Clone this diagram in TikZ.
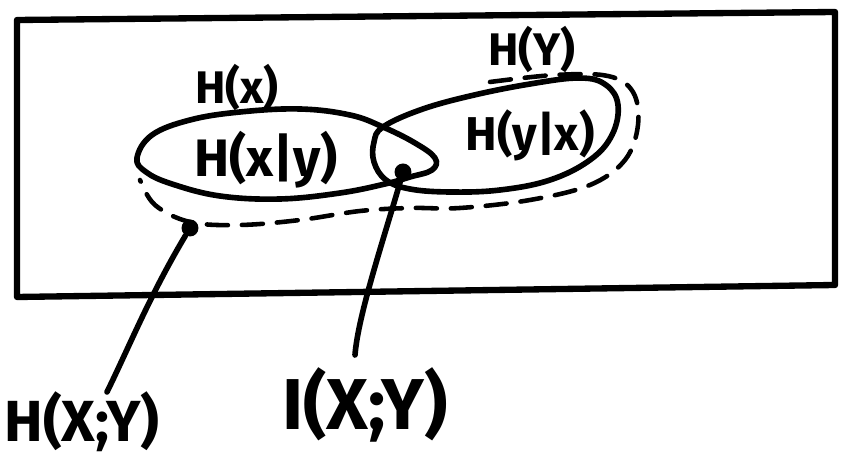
\documentclass[tikz,border=0pt]{standalone}
\usepackage{fontspec}
\setmainfont{Fira Sans}
\begin{document}
\begin{tikzpicture}[x=0.02cm,y=-0.02cm,
  ink/.style={line width=3.2pt,line cap=round,line join=round},
  dashink/.style={line width=2.6pt,line cap=round,dash pattern=on 0.42cm off 0.28cm},
  lab/.style={inner sep=0pt,font=\fontsize{#1}{#1}\selectfont\bfseries},
  dotnode/.style={circle,fill,inner sep=0pt,minimum size=0.34cm}]
\useasboundingbox (0,0) rectangle (850,465);
% frame
\coordinate (A) at (17,20);
\coordinate (B) at (835,12);
\coordinate (C) at (835,285);
\coordinate (D) at (17,297);
\draw[ink,line width=3.6pt] (A) -- (B) -- (C) -- (D) -- cycle;
% H(X) region
\draw[ink] plot[smooth cycle,tension=0.65] coordinates {(137,158) (152,135) (190,120) (240,112) (300,109) (350,115) (383,127) (415,143) (435,158) (432,170) (410,177) (385,184) (340,193) (280,199) (220,196) (172,184) (146,172)};
% H(Y) region
\draw[ink] plot[smooth cycle,tension=0.65] coordinates {(383,127) (420,110) (470,96) (530,84) (580,78) (606,85) (618,105) (612,135) (590,160) (550,180) (500,190) (450,192) (410,189) (386,180) (374,162) (374,142)};
% H(X,Y) dashed boundary
\draw[dashink] plot[smooth,tension=0.6] coordinates {(490,82) (555,75) (608,76) (633,92) (638,125) (625,160) (590,185) (530,200) (460,208) (410,208) (360,211) (300,220) (240,225) (190,222) (155,205) (140,180)};
% labels
\node[lab=26] (hx) at (237,88) {H(x)};
\node[lab=26] (hy) at (532,50) {H(Y)};
\node[lab=30] (hxgy) at (266,160) {H(x|y)};
\node[lab=27] (hygx) at (530,135) {H(y|x)};
\node[lab=33] (hxy) at (82,422) {H(X;Y)};
\node[lab=41] (ixy) at (365,405) {I(X;Y)};
% dots and pointers
\node[dotnode] (dot1) at (190,228) {};
\node[dotnode] (dot2) at (403,172) {};
\coordinate (e1) at (107,392);
\coordinate (e2) at (355,355);
\draw[ink] (dot1) .. controls (150,295) and (130,345) .. (e1);
\draw[ink] (dot2) .. controls (385,235) and (358,315) .. (e2);
\end{tikzpicture}
\end{document}
